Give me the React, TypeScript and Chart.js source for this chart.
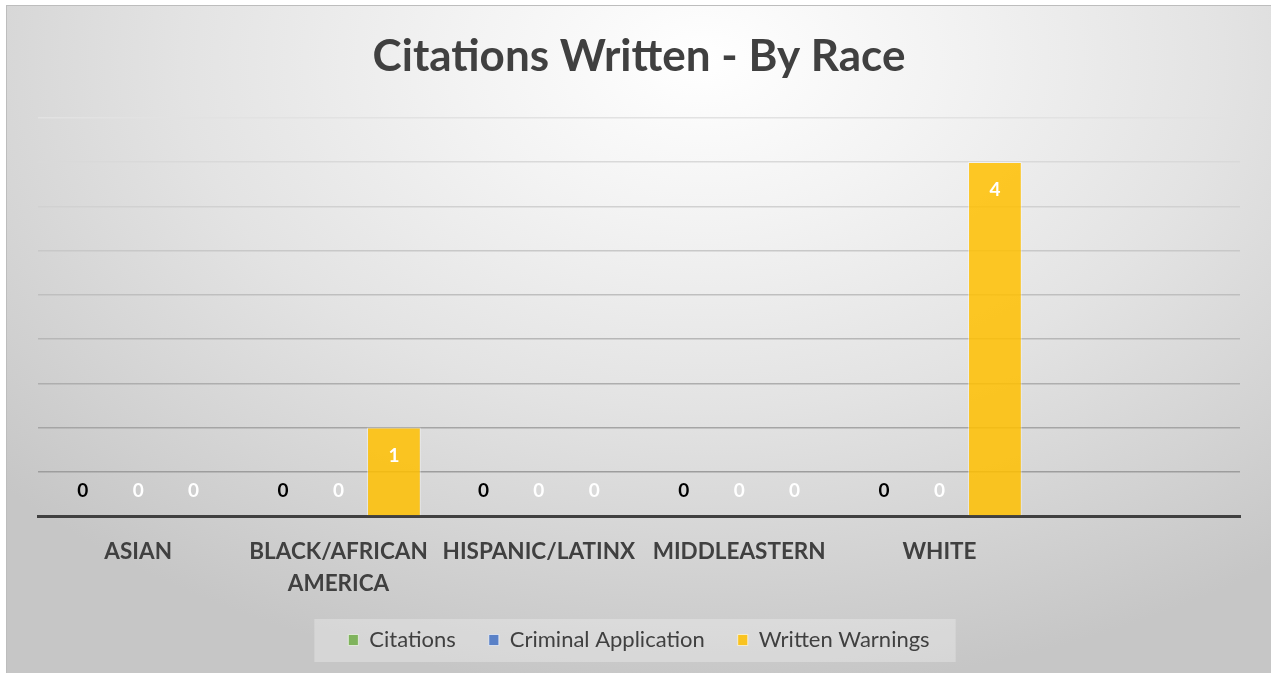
import React, { useEffect, useRef } from "react";
import { Chart, registerables } from "chart.js";

Chart.register(...registerables);

const categories: (string | string[])[] = [
  "ASIAN",
  ["BLACK/AFRICAN", "AMERICA"],
  "HISPANIC/LATINX",
  "MIDDLEASTERN",
  "WHITE",
  "",
];
const citations: (number | null)[] = [0, 0, 0, 0, 0, null];
const criminalApplication: (number | null)[] = [0, 0, 0, 0, 0, null];
const writtenWarnings: (number | null)[] = [0, 1, 0, 0, 4, null];

const yMax = 4.5;
const yStep = 0.5;

const FONT = "Lato, 'Open Sans', sans-serif";

const labelColors = ["#000000", "#ffffff", "#ffffff"];

const dataLabelPlugin = {
  id: "dataLabels",
  afterDatasetsDraw(chart: any) {
    const ctx = chart.ctx;
    ctx.save();
    ctx.font = `bold 19px ${FONT}`;
    ctx.textAlign = "center";
    ctx.textBaseline = "middle";
    chart.data.datasets.forEach((ds: any, di: number) => {
      const meta = chart.getDatasetMeta(di);
      meta.data.forEach((bar: any, i: number) => {
        const v = ds.data[i];
        if (v === null || v === undefined) return;
        const y = v === 0 ? bar.base - 25 : bar.y + 28;
        ctx.fillStyle = labelColors[di];
        ctx.fillText(String(v), bar.x, y);
      });
    });
    ctx.restore();
  },
};

const legendBgPlugin = {
  id: "legendBg",
  beforeDraw(chart: any) {
    const lg = chart.legend;
    if (!lg || !lg.legendHitBoxes || !lg.legendHitBoxes.length) return;
    const boxes = lg.legendHitBoxes;
    const first = boxes[0];
    const last = boxes[boxes.length - 1];
    const ctx = chart.ctx;
    const cy = first.top + first.height / 2;
    ctx.save();
    ctx.fillStyle = "rgba(255,255,255,0.28)";
    ctx.fillRect(first.left - 34, cy - 21, last.left + last.width - first.left + 60, 43);
    ctx.restore();
  },
};

export default function App() {
  const ref = useRef<HTMLCanvasElement | null>(null);

  useEffect(() => {
    if (!ref.current) return;
    const chart = new Chart(ref.current, {
      type: "bar",
      data: {
        labels: categories,
        datasets: [
          {
            label: "Citations",
            data: citations,
            backgroundColor: "rgba(112,173,71,0.85)",
            borderColor: "rgba(255,255,255,0.45)",
            borderWidth: 1,
            categoryPercentage: 0.83,
            barPercentage: 0.97,
          },
          {
            label: "Criminal Application",
            data: criminalApplication,
            backgroundColor: "rgba(68,114,196,0.85)",
            borderColor: "rgba(255,255,255,0.45)",
            borderWidth: 1,
            categoryPercentage: 0.83,
            barPercentage: 0.97,
          },
          {
            label: "Written Warnings",
            data: writtenWarnings,
            backgroundColor: "rgba(255,192,0,0.85)",
            borderColor: "rgba(255,255,255,0.45)",
            borderWidth: 1,
            categoryPercentage: 0.83,
            barPercentage: 0.97,
          },
        ],
      },
      options: {
        animation: false,
        responsive: false,
        maintainAspectRatio: false,
        devicePixelRatio: 1,
        layout: { padding: { left: 31, right: 31, top: 0, bottom: 12 } },
        plugins: {
          title: {
            display: true,
            text: "Citations Written - By Race",
            color: "#404040",
            font: { family: FONT, size: 44, weight: "bold", lineHeight: 1.2 },
            padding: { top: 24, bottom: 35 },
          },
          legend: {
            display: true,
            position: "bottom",
            labels: {
              color: "#404040",
              font: { family: FONT, size: 22 },
              boxWidth: 10,
              boxHeight: 11,
              padding: 33,
              generateLabels: (chart: any) =>
                chart.data.datasets.map((ds: any, i: number) => ({
                  text: ds.label,
                  fillStyle: ds.backgroundColor,
                  strokeStyle: "rgba(255,255,255,0.6)",
                  lineWidth: 1,
                  datasetIndex: i,
                  fontColor: "#404040",
                })),
            },
          },
          tooltip: { enabled: false },
        },
        scales: {
          x: {
            grid: { display: false },
            border: { display: true, color: "#404040", width: 3 },
            ticks: {
              color: "#404040",
              font: { family: FONT, size: 22.5, weight: "bold", lineHeight: 1.42 },
              padding: 12,
              maxRotation: 0,
              autoSkip: false,
            },
            afterFit: (scale: any) => {
              scale.height = scale.height - 16;
            },
          },
          y: {
            min: 0,
            max: yMax,
            ticks: { display: false, stepSize: yStep },
            border: { display: false },
            grid: {
              drawTicks: false,
              lineWidth: 1.5,
              color: (ctx: any) => {
                const v = ctx.tick ? ctx.tick.value : 0;
                if (v === 0) return "rgba(0,0,0,0)";
                const t = v / yMax;
                const c = Math.round(148 + t * 78);
                return `rgb(${c},${c},${c})`;
              },
            },
          },
        },
      },
      plugins: [dataLabelPlugin, legendBgPlugin],
    });
    return () => chart.destroy();
  }, []);

  return (
    <div
      style={{
        position: "absolute",
        left: 6,
        top: 5,
        width: 1265,
        height: 668,
        boxSizing: "border-box",
        borderTop: "1px solid #bdbdbd",
        borderLeft: "1px solid #bdbdbd",
        background:
          "radial-gradient(ellipse 75% 95% at 55% 8%, #ffffff 0%, #f3f3f3 25%, #e3e3e3 55%, #d3d3d3 80%, #c6c6c6 100%)",
      }}
    >
      <canvas
        ref={ref}
        width={1264}
        height={667}
        style={{ display: "block", width: 1264, height: 667 }}
      />
    </div>
  );
}
